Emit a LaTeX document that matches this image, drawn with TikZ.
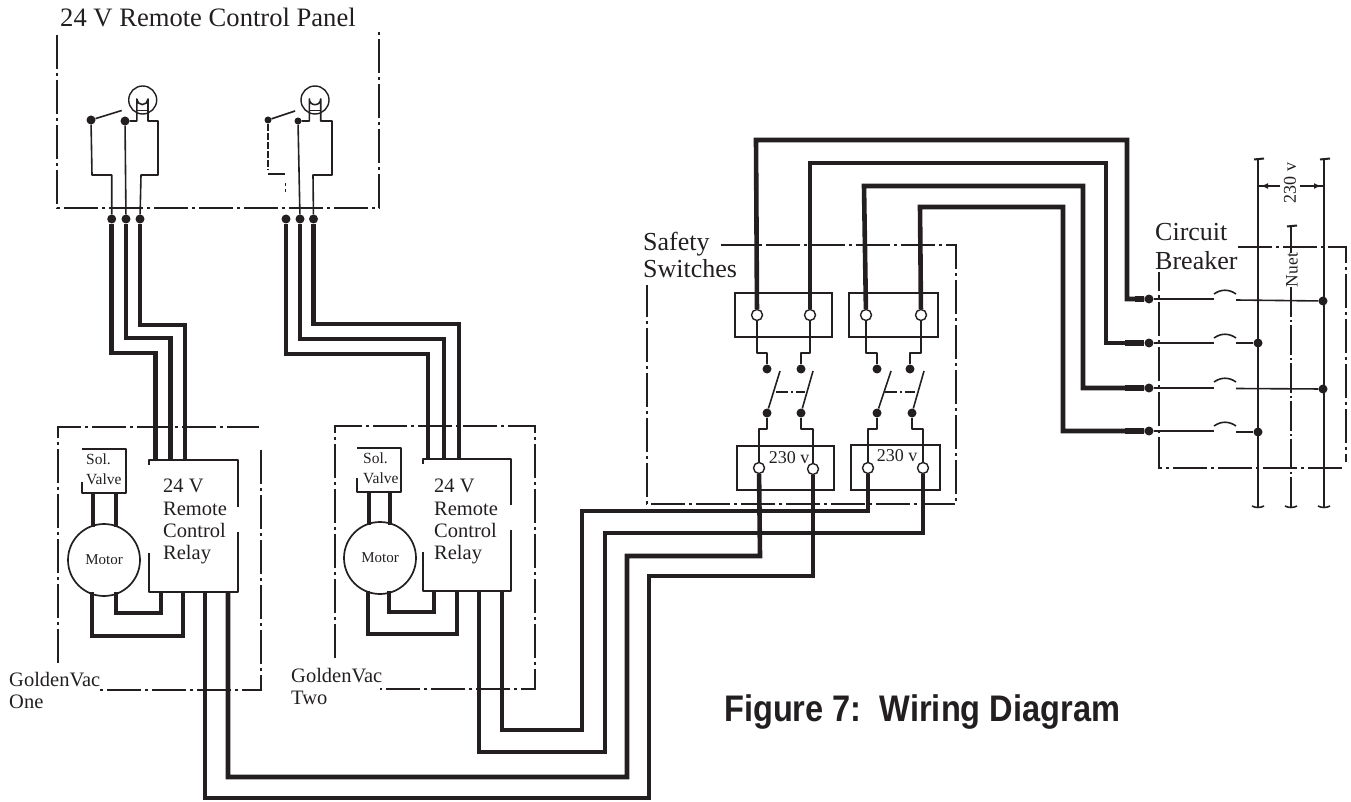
\documentclass[tikz,border=0pt]{standalone}
\usepackage{fontspec}
\usetikzlibrary{arrows.meta}
\setmainfont{Liberation Serif}
\newfontfamily\figfont{Liberation Sans}
\definecolor{ink}{HTML}{231F20}
\tikzset{
  wire/.style={line width=4.6pt,color=ink,line join=miter},
  thin/.style={line width=1.6pt,color=ink,line join=round},
  frame/.style={line width=1.6pt,color=ink,dash pattern=on 34pt off 4pt on 3pt off 4pt},
  dotj/.style={circle,fill=ink,inner sep=0pt,minimum size=9pt},
  termo/.style={circle,draw=ink,line width=1.4pt,fill=white,inner sep=0pt,minimum size=11pt},
  box/.style={draw=ink,line width=1.6pt,inner sep=0pt,fill=none},
  lab/.style={color=ink,inner sep=0pt,anchor=north west,align=left},
  big/.style={lab,font=\fontsize{26}{27}\selectfont},
  mid/.style={lab,font=\fontsize{20.5}{22.3}\selectfont},
  small/.style={lab,font=\fontsize{15.5}{20}\selectfont},
  volt/.style={color=ink,inner sep=0pt,font=\fontsize{17.5}{20}\selectfont},
  motor/.style={circle,draw=ink,line width=1.7pt,fill=white,minimum size=72pt,inner sep=0pt,font=\fontsize{15}{17}\selectfont,text=ink},
  lamp/.style={circle,draw=ink,line width=1.4pt,minimum size=28pt,inner sep=0pt}
}
\begin{document}
\begin{tikzpicture}[x=1pt,y=-1pt]
\useasboundingbox (0,0) rectangle (1351,802);
% ---------- panel
\node[big,anchor=base west,font=\fontsize{26.6}{27}\selectfont] (paneltitle) at (60,27) {24 V Remote Control Panel};
\coordinate (pTL) at (57,35); \coordinate (pBL) at (57,208); \coordinate (pBR) at (379,208); \coordinate (pTR) at (379,30);
\draw[frame] (pTL) -- (pBL) -- (pBR) -- (pTR);
% dots under panel
\foreach \n/\x in {a/111.7,b/126,c/140,d/286,e/300,f/313.5}{\node[dotj] (p\n) at (\x,219) {};}
% lamps
\node[lamp] (lampA) at (142.7,100) {};
\node[lamp] (lampB) at (315,100) {};
\draw[thin] (136.8,110.5) -- (148,110.5);
\draw[thin] (309.3,110.5) -- (320.7,110.5);
\node[dotj] (s1a) at (91,120) {}; \node[dotj] (s1b) at (125,121) {};
\node[dotj,minimum size=7pt] (s2a) at (268,120) {}; \node[dotj,minimum size=7pt] (s2b) at (298,121) {};
\draw[thin] (s1a) -- (121.7,110.5);
\draw[thin] (s2a) -- (295,111);
% lamp 1 wiring
\draw[thin] (pc) -- (141,175) -- (158,175) -- (158,121) -- (148,121) -- (148,99) arc (0:180:5.6) -- (136.8,121) -- (s1b);
\draw[thin] (s1b) -- (pb);
\draw[thin] (s1a) -- (92,175) -- (111.7,175) -- (pa);
% lamp 2 wiring
\draw[thin] (pf) -- (313,175) -- (332,175) -- (332,121) -- (320.7,121) -- (320.7,99) arc (0:180:5.7) -- (309.3,121) -- (s2b);
\draw[thin] (s2b) -- (pe);
\draw[thin,dash pattern=on 7pt off 2pt] (s2a) -- (268,170);
\draw[thin] (268,174) -- (285,174);
\draw[thin,dash pattern=on 3pt off 3pt] (285.5,183) -- (285.5,192);
% ---------- GoldenVac One
\coordinate (oA) at (100,690); \coordinate (oB) at (261,690); \coordinate (oC) at (261,450);
\draw[frame] (58,663) -- (58,427) -- (259,427);
\draw[frame] (oC) -- (oB) -- (oA);
\node[mid] (gv1) at (9,672) {GoldenVac\\One};
\coordinate (solA) at (81.7,449);
\draw[thin] (solA) -- (126,449) -- (126,493) -- (81.7,493) -- (81.7,482);
\node[small] (sol1) at (86,454) {Sol.\\Valve};
\node[motor] (mot1) at (104,560) {Motor};
% relay One
\coordinate (r1a) at (155.5,460); \coordinate (r1b) at (170.5,460); \coordinate (r1c) at (185,460);
\draw[thin] (149,465) -- (149,460) -- (238,460) -- (238,507);
\draw[thin] (238,532) -- (238,592) -- (149,592) -- (149,553);
\node[mid] (rt1) at (163,479) {24 V\\Remote\\Control\\Relay};
\draw[wire] (pa) -- (111.7,353) -- (155.5,353) -- (r1a);
\draw[wire] (pb) -- (126,338) -- (170.5,338) -- (r1b);
\draw[wire] (pc) -- (140,325) -- (185,325) -- (r1c);
% valve-motor one
\draw[wire] (93,493) -- (93,527); \draw[wire] (116,493) -- (116,527);
\draw[wire] (92,592) -- (92,636) -- (183,636) -- (183,592);
\draw[wire] (116,592) -- (116,613) -- (161,613) -- (161,592);
% ---------- GoldenVac Two
\draw[frame] (335,658) -- (335,426) -- (535,426) -- (535,689) -- (380,689);
\node[mid] (gv2) at (291,668) {GoldenVac\\Two};
\draw[thin] (357,478) -- (357,492) -- (400.7,492) -- (400.7,448) -- (357,448);
\node[small] (sol2) at (363,453) {Sol.\\Valve};
\node[motor] (mot2) at (380,558) {Motor};
\coordinate (r2a) at (428,459); \coordinate (r2b) at (444,459); \coordinate (r2c) at (459,459);
\draw[thin] (423,464) -- (423,459) -- (511,459) -- (511,505);
\draw[thin] (511,530) -- (511,591) -- (423,591) -- (423,552);
\node[mid] (rt2) at (434,479) {24 V\\Remote\\Control\\Relay};
\draw[wire] (pd) -- (286,354) -- (428,354) -- (r2a);
\draw[wire] (pe) -- (300,339) -- (444,339) -- (r2b);
\draw[wire] (pf) -- (313.5,324) -- (459,324) -- (r2c);
\draw[wire] (369,492) -- (369,525); \draw[wire] (390,492) -- (390,525);
\draw[wire] (368,591) -- (368,634) -- (457,634) -- (457,591);
\draw[wire] (389,591) -- (389,612) -- (434,612) -- (434,591);
% ---------- Safety switches
\node[big] (safety) at (643,232) {Safety\\Switches};
\draw[frame] (721,245) -- (956,245) -- (956,504) -- (647,504) -- (647,285);
\node[box,minimum width=97pt,minimum height=44pt] (ub1) at (783.5,315) {};
\node[box,minimum width=89pt,minimum height=44pt] (ub2) at (893.5,315) {};
\node[box,minimum width=97pt,minimum height=44pt] (lb1) at (785.5,468) {};
\node[box,minimum width=89pt,minimum height=45pt] (lb2) at (895.5,467.5) {};
\node[volt,font=\fontsize{18}{20}\selectfont] (v1) at (789,458) {230 v};
\node[volt,font=\fontsize{18}{20}\selectfont] (v2) at (897,456) {230 v};
\foreach \n/\x in {a/757,b/810,c/866,d/921}{\node[termo] (ut\n) at (\x,315) {};}
\node[termo] (lta) at (759,468) {}; \node[termo] (ltb) at (813,469) {}; \node[termo] (ltc) at (868,468) {}; \node[termo] (ltd) at (923,468) {};
\foreach \n/\x in {a/767,b/801,c/877,d/910}{\node[dotj] (hi\n) at (\x,369) {};}
\foreach \n/\x in {a/767,b/801,c/877,d/912}{\node[dotj] (lo\n) at (\x,413) {};}
\draw[thin] (uta) -- (757,353) -- (767,353) -- (hia);
\draw[thin] (utb) -- (810,353) -- (801,353) -- (hib);
\draw[thin] (utc) -- (866,353) -- (877,353) -- (hic);
\draw[thin] (utd) -- (921,353) -- (910,353) -- (hid);
\draw[thin] (loa) -- (780,371); \draw[thin] (lob) -- (813,371);
\draw[thin] (loc) -- (891,371); \draw[thin] (lod) -- (924,371);
\draw[thin,dash pattern=on 12pt off 3pt on 2pt off 3pt] (776,392) -- (805,392);
\draw[thin,dash pattern=on 12pt off 3pt on 2pt off 3pt] (885,392) -- (915,392);
\draw[thin] (loa) -- (767,429) -- (759,429) -- (lta);
\draw[thin] (lob) -- (801,429) -- (813,429) -- (ltb);
\draw[thin] (loc) -- (877,429) -- (868,429) -- (ltc);
\draw[thin] (lod) -- (912,429) -- (923,429) -- (ltd);
% relay to safety
\coordinate (o1a) at (205,592); \coordinate (o1b) at (228,592); \coordinate (o2a) at (479,591); \coordinate (o2b) at (502,591);
\draw[wire] (o2b) -- (502,730) -- (582,730) -- (582,511) -- (868,511) -- (ltc);
\draw[wire] (o2a) -- (479,752) -- (605,752) -- (605,533) -- (923,533) -- (ltd);
\draw[wire] (o1b) -- (228,777) -- (627,777) -- (627,556) -- (760,556) -- (lta);
\draw[wire] (o1a) -- (205,798) -- (649,798) -- (649,576) -- (813,576) -- (ltb);
% ---------- Circuit breaker
\node[big,font=\fontsize{26}{29}\selectfont] (cb) at (1155,223) {Circuit\\Breaker};
\draw[frame] (1238,247) -- (1346,247) -- (1346,462);
\draw[frame] (1342,468) -- (1159,468) -- (1159,272);
\foreach \n/\y in {a/299,b/343,c/388,d/431}{\node[dotj] (cd\n) at (1149,\y) {};}
\node[dotj] (bA) at (1323,301) {}; \node[dotj] (bB) at (1258,343) {}; \node[dotj] (bC) at (1323,389) {}; \node[dotj] (bD) at (1258,432) {};
\draw[wire] (uta) -- (756,140) -- (1127,140) -- (1127,299) -- (cda);
\draw[wire] (utb) -- (810,163) -- (1106,163) -- (1106,343) -- (cdb);
\draw[wire] (utc) -- (864,186) -- (1083,186) -- (1083,388) -- (cdc);
\draw[wire] (utd) -- (920,207) -- (1063,207) -- (1063,431) -- (cdd);
\draw[line width=6pt,color=ink] (1135,299) -- (cda);
\draw[line width=6pt,color=ink] (1125,343) -- (cdb);
\draw[line width=6pt,color=ink] (1125,388) -- (cdc);
\draw[line width=6pt,color=ink] (1125,431) -- (cdd);
\draw[thin] (cda) -- (1214,299); \draw[thin] (1236,300) -- (bA);
\draw[thin] (cdb) -- (1214,343); \draw[thin] (1236,343) -- (bB);
\draw[thin] (cdc) -- (1214,388); \draw[thin] (1236,388.5) -- (bC);
\draw[thin] (cdd) -- (1214,431); \draw[thin] (1236,432) -- (bD);
\foreach \y in {294,338,382,426}{\draw[thin] (1214,\y) .. controls (1221,\y-5) and (1229,\y-5) .. (1236,\y);}
% buses
\coordinate (t1) at (1258,159); \coordinate (t2) at (1324,159); \coordinate (t3) at (1291,226);
\coordinate (e1) at (1258,507); \coordinate (e2) at (1324,507); \coordinate (e3) at (1291,507);
\draw[thin] (t1) -- (e1); \draw[thin] (t2) -- (e2);
\draw[thin] (t3) -- (1291,253);
\draw[thin,dash pattern=on 30pt off 3pt on 2pt off 3pt] (1291,287) -- (e3);
\node[volt,rotate=90] (nuet) at (1292,270) {Nuet};
\node[volt,rotate=90,font=\fontsize{18}{20}\selectfont] (v230) at (1290,183) {230 v};
\foreach \n in {t1,t2,t3}{\draw[line width=2pt,color=ink] ([xshift=-4pt,yshift=-0.5pt]\n) -- ([xshift=6pt,yshift=0.5pt]\n);}
\foreach \n in {e1,e2,e3}{\draw[thin] ([xshift=-6pt,yshift=1pt]\n) .. controls ([xshift=-2pt,yshift=-1pt]\n) and ([xshift=2pt,yshift=-1pt]\n) .. ([xshift=6pt,yshift=1pt]\n);}
\draw[thin] (1280,186) -- (1258,186); \draw[thin] (1300,186) -- (1324,186);
\draw[thin,-{Latex[length=7pt,width=6pt]}] (1275,186) -- (1261,186);
\draw[thin,-{Latex[length=7pt,width=6pt]}] (1306,186) -- (1321,186);
% ---------- caption
\node[color=ink,inner sep=0pt,anchor=base west,xscale=0.88,font=\figfont\bfseries\fontsize{37}{40}\selectfont] (cap) at (724,721) {Figure 7:\ \ Wiring Diagram};
\end{tikzpicture}
\end{document}
